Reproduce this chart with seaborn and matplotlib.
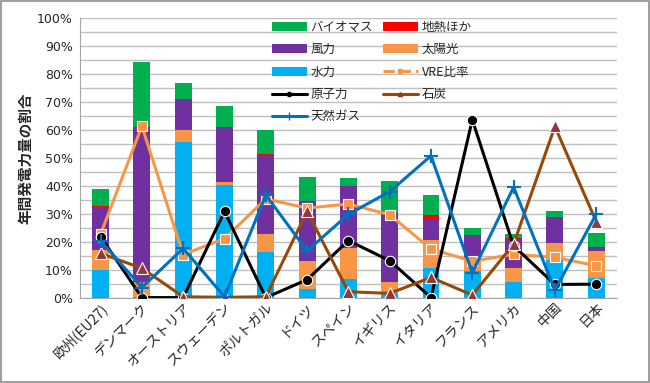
import numpy as np
import matplotlib
matplotlib.use("Agg")
import matplotlib.pyplot as plt
import seaborn as sns
from matplotlib.patches import Rectangle
from matplotlib.lines import Line2D

# === データ (割合 %) ===
countries = ["欧州(EU27)", "デンマーク", "オーストリア", "スウェーデン", "ポルトガル", "ドイツ",
             "スペイン", "イギリス", "イタリア", "フランス", "アメリカ", "中国", "日本"]

hydro = [10.0, 0.1, 55.8, 40.3, 16.2, 2.9, 6.6, 1.5, 10.7, 9.5, 5.4, 13.5, 6.9]
solar = [7.2, 5.3, 4.1, 1.2, 6.5, 10.2, 11.3, 4.2, 9.9, 4.2, 5.1, 5.9, 9.9]
wind = [15.2, 55.7, 11.1, 19.5, 28.3, 21.6, 22.1, 24.5, 7.4, 8.3, 10.4, 9.6, 0.8]
geo = [0.5, 0.0, 0.0, 0.0, 0.5, 0.0, 0.0, 0.0, 1.6, 0.3, 0.4, 0.0, 0.6]
bio = [6.0, 23.0, 5.8, 7.6, 8.5, 8.6, 2.6, 11.4, 7.1, 2.5, 1.3, 2.0, 4.8]

vre = [22.7, 61.3, 15.4, 21.1, 35.3, 32.0, 33.5, 29.6, 17.4, 13.0, 15.5, 14.4, 11.4]
nuclear = [21.8, 0.0, 0.0, 30.8, 0.0, 6.4, 20.4, 13.2, 0.0, 63.6, 18.5, 4.7, 4.8]
coal = [15.8, 10.5, 0.3, 0.1, 0.3, 30.8, 2.1, 1.5, 7.2, 0.9, 19.1, 61.2, 27.2]
gas = [20.3, 3.6, 17.6, 0.3, 36.7, 16.7, 29.8, 37.9, 50.7, 8.9, 39.5, 2.7, 29.8]

# === 色 ===
c_hydro, c_solar, c_wind, c_geo, c_bio = "#00B0F0", "#F79646", "#7030A0", "#FF0000", "#00B050"
c_vre, c_nuc, c_coal, c_coal_mk, c_gas = "#F79646", "#000000", "#984807", "#953735", "#0070C0"

sns.set_style("white")
plt.rcParams["font.family"] = ["Noto Sans CJK JP", "DejaVu Sans"]

fig = plt.figure(figsize=(6.5, 3.83), dpi=100)
ax = fig.add_axes([0.123, 0.223, 0.826, 0.730])

# === 積み上げ棒 ===
bottom = np.zeros(len(countries))
layers = [(hydro, c_hydro), (solar, c_solar), (wind, c_wind), (geo, c_geo), (bio, c_bio)]
for vals, col in layers:
    sns.barplot(x=countries, y=vals, bottom=bottom, color=col, width=0.41,
                saturation=1, edgecolor="none", linewidth=0, ax=ax, zorder=2)
    bottom = bottom + np.array(vals)

# === 折れ線 ===
xs = np.arange(len(countries))
ax.plot(xs, vre, color=c_vre, lw=2.2, marker="s", ms=6.5, mfc=c_vre, mec="white", mew=0.8, zorder=3)
ax.plot(xs, nuclear, color=c_nuc, lw=2.2, marker="o", ms=7.5, mfc=c_nuc, mec="white", mew=0.8, zorder=4)
ax.plot(xs, coal, color=c_coal, lw=2.2, marker="^", ms=8, mfc=c_coal_mk, mec="white", mew=0.8, zorder=4)
ax.plot(xs, gas, color=c_gas, lw=2.2, marker="+", ms=10, mew=1.5, zorder=5)

# === 軸 ===
ax.set_xlim(-0.5, len(countries) - 0.5)
ax.set_ylim(0, 100)
ax.set_yticks(np.arange(0, 101, 10))
ax.set_yticks(np.arange(5, 100, 10), minor=True)
ax.set_yticklabels([f"{v}%" for v in range(0, 101, 10)], fontsize=9, family=["DejaVu Sans"])
ax.grid(axis="y", which="both", color="#BFBFBF", lw=1.0, zorder=0)
ax.set_axisbelow(True)
ax.tick_params(axis="y", which="both", length=0, pad=5)
ax.tick_params(axis="x", length=0, pad=2)
ax.set_xticks(xs)
ax.set_xticklabels(countries, rotation=45, ha="right", rotation_mode="anchor", fontsize=10)
for s in ["top", "right"]:
    ax.spines[s].set_visible(False)
ax.spines["left"].set_color("#A6A6A6")
ax.spines["bottom"].set_color("#A6A6A6")
ax.set_xlabel("")
ax.set_ylabel("年間発電力量の割合", fontsize=10.5, fontweight="bold", labelpad=3)

# === 凡例 ===
def patch(col):
    return Rectangle((0, 0), 1, 1, facecolor=col, edgecolor="none")

handles = [
    patch(c_bio), patch(c_wind), patch(c_hydro),
    Line2D([], [], color=c_nuc, lw=2.2, marker="o", ms=3),
    Line2D([], [], color=c_gas, lw=2.2, marker="+", ms=6),
    patch(c_geo), patch(c_solar),
    Line2D([], [], color=c_vre, lw=2.2, ls="--", marker="s", ms=3),
    Line2D([], [], color=c_coal, lw=2.2, marker="^", ms=3, mfc=c_coal_mk, mec=c_coal_mk),
]
labels = ["バイオマス", "風力", "水力", "原子力", "天然ガス", "地熱ほか", "太陽光", "VRE比率", "石炭"]
ax.legend(handles, labels, ncol=2, loc="upper left", bbox_to_anchor=(0.336, 1.03),
          frameon=False, fontsize=9, handlelength=2.8, handleheight=0.7,
          labelspacing=0.75, columnspacing=0.8, handletextpad=0.3)

# 枠線
fig.add_artist(Rectangle((0.001, 0.002), 0.997, 0.996, transform=fig.transFigure,
                         fill=False, edgecolor="#8C8C8C", lw=1.2))

fig.savefig("out.png", dpi=100)
